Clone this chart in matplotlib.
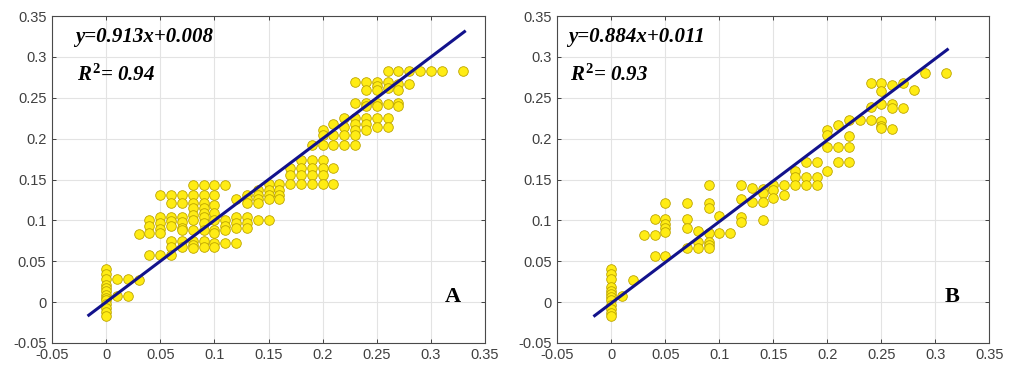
import numpy as np
import matplotlib.pyplot as plt

# ---- panel A: x columns (0.01 steps) and the y values stacked at each ----
a_x = [0.00, 0.01, 0.02, 0.03, 0.04, 0.05, 0.06, 0.07, 0.08, 0.09, 0.10,
       0.11, 0.12, 0.13, 0.14, 0.15, 0.16, 0.17, 0.18, 0.19, 0.20, 0.21,
       0.22, 0.23, 0.24, 0.25, 0.26, 0.27, 0.28, 0.29, 0.30, 0.31, 0.33]
a_y = [
    [0.04, 0.034, 0.028, 0.021, 0.017, 0.013, 0.009, 0.005, 0.002, -0.002, -0.007, -0.012, -0.017],
    [0.028, 0.008],
    [0.028, 0.008],
    [0.027, 0.083],
    [0.1, 0.093, 0.084, 0.058],
    [0.131, 0.104, 0.097, 0.09, 0.084, 0.058],
    [0.131, 0.121, 0.104, 0.099, 0.093, 0.075, 0.068, 0.058],
    [0.131, 0.121, 0.104, 0.098, 0.091, 0.088, 0.075, 0.067],
    [0.143, 0.131, 0.121, 0.115, 0.106, 0.1, 0.088, 0.075, 0.07, 0.066],
    [0.143, 0.131, 0.121, 0.115, 0.109, 0.104, 0.097, 0.088, 0.075, 0.067],
    [0.143, 0.131, 0.119, 0.109, 0.1, 0.088, 0.084, 0.072, 0.067],
    [0.143, 0.1, 0.093, 0.088, 0.072],
    [0.126, 0.104, 0.097, 0.091, 0.072],
    [0.131, 0.126, 0.121, 0.104, 0.097, 0.091],
    [0.137, 0.131, 0.126, 0.121, 0.1],
    [0.144, 0.137, 0.131, 0.126, 0.1],
    [0.144, 0.137, 0.131, 0.126],
    [0.164, 0.155, 0.144],
    [0.174, 0.164, 0.155, 0.144],
    [0.192, 0.174, 0.164, 0.155, 0.144],
    [0.21, 0.204, 0.192, 0.174, 0.164, 0.155, 0.144],
    [0.218, 0.204, 0.192, 0.164, 0.144],
    [0.225, 0.214, 0.204, 0.192],
    [0.269, 0.244, 0.225, 0.218, 0.21, 0.204, 0.192],
    [0.269, 0.26, 0.244, 0.24, 0.225, 0.218, 0.21],
    [0.269, 0.264, 0.26, 0.244, 0.24, 0.225, 0.214],
    [0.283, 0.269, 0.262, 0.242, 0.225, 0.214],
    [0.283, 0.267, 0.26, 0.244, 0.24],
    [0.283, 0.267],
    [0.283],
    [0.283],
    [0.283],
    [0.283],
]
a_line_x = [-0.016, 0.331]
a_line_y = [-0.016, 0.331]
a_eq = 'y=0.913x+0.008'
a_r2 = '0.94'

# ---- panel B ----
b_x = [0.00, 0.01, 0.02, 0.03, 0.04, 0.05, 0.07, 0.08, 0.09, 0.10, 0.11,
       0.12, 0.13, 0.14, 0.15, 0.16, 0.17, 0.18, 0.19, 0.20, 0.21, 0.22,
       0.23, 0.24, 0.25, 0.26, 0.27, 0.28, 0.29, 0.31]
b_y = [
    [0.04, 0.034, 0.028, 0.018, 0.014, 0.01, 0.006, 0.002, -0.004, -0.008, -0.013, -0.017],
    [0.007],
    [0.027],
    [0.082],
    [0.102, 0.082, 0.056],
    [0.121, 0.102, 0.096, 0.091, 0.086, 0.056],
    [0.121, 0.102, 0.091, 0.066],
    [0.087, 0.074, 0.066],
    [0.143, 0.121, 0.115, 0.085, 0.074, 0.07, 0.066],
    [0.105, 0.085],
    [0.085],
    [0.143, 0.126, 0.104, 0.098],
    [0.14, 0.122],
    [0.138, 0.133, 0.122, 0.1],
    [0.143, 0.137, 0.127],
    [0.143, 0.131],
    [0.161, 0.153, 0.143],
    [0.172, 0.153, 0.143],
    [0.172, 0.153, 0.143],
    [0.21, 0.204, 0.19, 0.161],
    [0.217, 0.19, 0.172],
    [0.223, 0.203, 0.19, 0.172],
    [0.223],
    [0.268, 0.239, 0.223],
    [0.268, 0.258, 0.242, 0.222, 0.216, 0.213],
    [0.266, 0.242, 0.238, 0.212],
    [0.268, 0.238],
    [0.259],
    [0.28],
    [0.28],
]
b_line_x = [-0.0155, 0.311]
b_line_y = [-0.0166, 0.309]
b_eq = 'y=0.884x+0.011'
b_r2 = '0.93'

tick_vals = [-0.05, 0, 0.05, 0.1, 0.15, 0.2, 0.25, 0.3, 0.35]
tick_labels = ['-0.05', '0', '0.05', '0.1', '0.15', '0.2', '0.25', '0.3', '0.35']

plt.rcParams['mathtext.fontset'] = 'custom'
plt.rcParams['mathtext.it'] = 'Liberation Serif:bold:italic'
plt.rcParams['mathtext.rm'] = 'Liberation Serif:bold'

fig = plt.figure(figsize=(10.19, 3.66), dpi=100)
ax_a = fig.add_axes([0.051, 0.063, 0.425, 0.893])
ax_b = fig.add_axes([0.547, 0.063, 0.424, 0.893])

panels = [(ax_a, a_x, a_y, a_line_x, a_line_y, a_eq, a_r2, 'A', -0.029, 0.320),
          (ax_b, b_x, b_y, b_line_x, b_line_y, b_eq, b_r2, 'B', -0.040, 0.315)]

for ax, cx, cy, lx, ly, eq, r2, tag, tx, tagx in panels:
    xs = np.concatenate([[x] * len(v) for x, v in zip(cx, cy)])
    ys = np.concatenate(cy)
    ax.grid(True, color='#e3e3e3', linewidth=0.8)
    ax.set_axisbelow(True)
    ax.scatter(xs, ys, s=48, c='#ffec14', edgecolors='#bca400', linewidths=0.6, zorder=2)
    ax.plot(lx, ly, color='#12128c', linewidth=2.2, zorder=3)
    ax.set_xlim(-0.05, 0.35)
    ax.set_ylim(-0.05, 0.35)
    ax.set_xticks(tick_vals)
    ax.set_xticklabels(tick_labels)
    ax.set_yticks(tick_vals)
    ax.set_yticklabels(tick_labels)
    ax.tick_params(direction='in', length=3, width=0.7, top=True, right=True,
                   colors='#404040', labelsize=10.5, pad=4)
    for lab in ax.get_xticklabels() + ax.get_yticklabels():
        lab.set_family('Liberation Sans')
    for sp in ax.spines.values():
        sp.set_color('#4a4a4a')
        sp.set_linewidth(0.8)
    ax.text(tx, 0.324, eq, family='Liberation Serif', weight='bold', style='italic',
            fontsize=15, va='center', ha='left')
    ax.text(tx + 0.002, 0.278, r'$R^2$= ' + r2, family='Liberation Serif', weight='bold',
            style='italic', fontsize=15, va='center', ha='left')
    ax.text(tagx, 0.006, tag, family='Liberation Serif', weight='bold',
            fontsize=16, va='center', ha='center')

fig.savefig('out.png', dpi=100)
